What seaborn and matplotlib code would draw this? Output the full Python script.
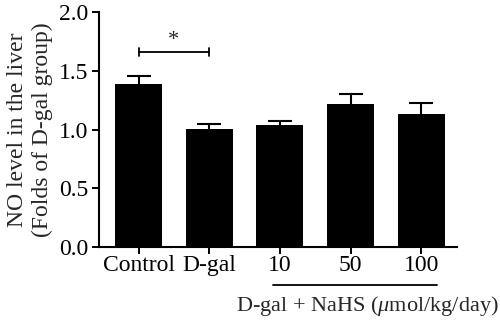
import numpy as np
import pandas as pd
import matplotlib
matplotlib.use("Agg")
import matplotlib.pyplot as plt
import seaborn as sns

groups = ["Control", "D-gal", "10", "50", "100"]
means = [1.385, 1.01, 1.04, 1.215, 1.135]
sems = [0.07, 0.04, 0.03, 0.09, 0.095]
y_ticks = [0.0, 0.5, 1.0, 1.5, 2.0]

sns.set_style("ticks")
plt.rcParams["font.family"] = ["Liberation Serif", "DejaVu Serif"]
plt.rcParams["mathtext.fontset"] = "custom"
plt.rcParams["mathtext.it"] = "Liberation Serif:italic"

df = pd.DataFrame({"group": groups, "value": means})

fig = plt.figure(figsize=(5.0, 3.23), dpi=100)
ax = fig.add_axes([0.198, 0.235, 0.716, 0.727])

sns.barplot(data=df, x="group", y="value", color="black", width=0.665,
            errorbar=None, saturation=1, edgecolor="black", linewidth=0,
            ax=ax)

# upper-only SEM bars
eb = ax.errorbar(np.arange(len(groups)), means,
                 yerr=[np.zeros(len(sems)), sems], fmt="none",
                 ecolor="black", elinewidth=1.5, capsize=8.5, capthick=1.5)
caplines = eb[1]
if len(caplines) > 1:
    caplines[0].set_visible(False)

ax.set_xlim(-0.56, 4.505)
ax.set_ylim(0, 2.0)
ax.set_yticks(y_ticks)
ax.set_yticklabels([f"{t:.1f}" for t in y_ticks])
ax.set_xlabel("")
ax.set_ylabel("NO level in the liver\n(Folds of D-gal group)", fontsize=17,
              linespacing=1.25, labelpad=4)
ax.tick_params(axis="both", labelsize=17, width=1.4, length=5, direction="out",
               color="black", labelcolor="black")
ax.tick_params(axis="y", pad=3)
ax.tick_params(axis="x", pad=1)
for side in ("top", "right"):
    ax.spines[side].set_visible(False)
for side in ("left", "bottom"):
    ax.spines[side].set_linewidth(1.5)
    ax.spines[side].set_color("black")

# significance bracket between Control and D-gal
yb = 1.66
ax.plot([0, 1], [yb, yb], color="black", lw=1.3)
ax.plot([0, 0], [yb - 0.035, yb + 0.035], color="black", lw=1.3)
ax.plot([1, 1], [yb - 0.035, yb + 0.035], color="black", lw=1.3)
ax.text(0.5, yb + 0.02, "*", ha="center", va="bottom", fontsize=16)

# grouping line under the NaHS doses
trans = ax.get_xaxis_transform()
ax.plot([1.907, 4.226], [-0.162, -0.162], color="black", lw=1.3,
        transform=trans, clip_on=False)
ax.text(3.23, -0.2, r"D-gal + NaHS ($\mathit{\mu}$mol/kg/day)", ha="center",
        va="top", fontsize=16, transform=trans)

fig.savefig("out.png", dpi=100)
